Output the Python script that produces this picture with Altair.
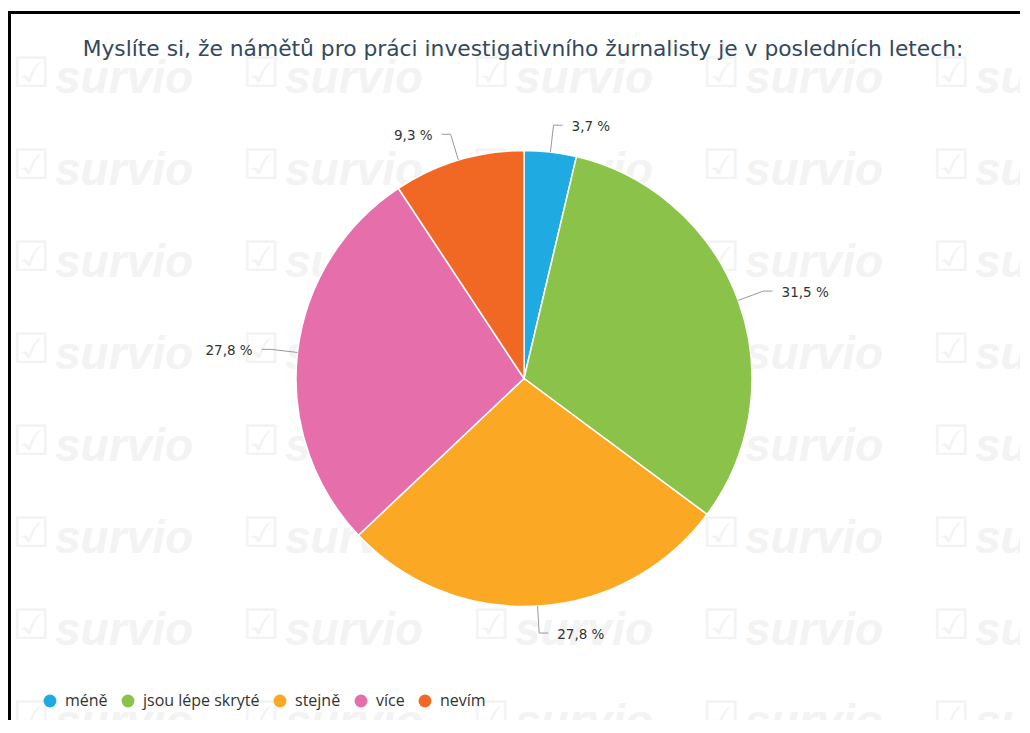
import altair as alt
import numpy as np
import pandas as pd

# ---- data ----
categories = ["méně", "jsou lépe skryté", "stejně", "více", "nevím"]
values = [3.7, 31.5, 27.8, 27.8, 9.3]
labels = ["3,7 %", "31,5 %", "27,8 %", "27,8 %", "9,3 %"]
colors = ["#1fabe1", "#8bc34a", "#fba925", "#e66fab", "#f06824"]
title_text = "Myslíte si, že námětů pro práci investigativního žurnalisty je v posledních letech:"
watermark_cols = [0, 1, 2, 3, 4]
watermark_rows = [0, 1, 2, 3, 4, 5, 6, 7]

# ---- layout ----
W, H = 1012, 712
CX, CY, R = 516, 370.5, 228
R_OUT = 255
HOOK = 9
GAP = 9

df = pd.DataFrame({"category": categories, "value": values, "label": labels,
                   "order": list(range(len(categories)))})

total = float(sum(values))
mid = np.cumsum(values) - np.array(values) / 2.0
ang = 2 * np.pi * mid / total
side = np.where(np.sin(ang) >= 0, 1, -1)

x0 = CX + R * np.sin(ang)
y0 = CY - R * np.cos(ang)
x1 = CX + R_OUT * np.sin(ang)
y1 = CY - R_OUT * np.cos(ang)
x2 = x1 + side * HOOK
y2 = y1

conn_rows = []
for i, c in enumerate(categories):
    conn_rows += [
        {"category": c, "k": 0, "px": x0[i], "py": y0[i]},
        {"category": c, "k": 1, "px": x1[i], "py": y1[i]},
        {"category": c, "k": 2, "px": x2[i], "py": y2[i]},
    ]
conn = pd.DataFrame(conn_rows)

lab = pd.DataFrame({"label": labels, "px": x2 + side * GAP, "py": y2 + 2, "side": side})

wm = pd.DataFrame([{"c": c, "r": r} for c in watermark_cols for r in watermark_rows])
wm["tx"] = 47 + 230 * wm["c"]
wm["ty"] = 70.5 + 92 * wm["r"]
wm["cx"] = 23 + 230 * wm["c"]
wm["cy"] = 66 + 92 * wm["r"]

xs = alt.Scale(domain=[0, W], nice=False, zero=False)
ys = alt.Scale(domain=[0, H], nice=False, zero=False, reverse=True)

wm_text = alt.Chart(wm).mark_text(
    text="survio", font="Liberation Sans", fontSize=46, fontStyle="italic",
    fontWeight="bold", color="#f3f3f3", align="left", baseline="middle"
).encode(x=alt.X("tx:Q", scale=xs, axis=None), y=alt.Y("ty:Q", scale=ys, axis=None))

wm_check = alt.Chart(wm).mark_text(
    text="☑", font="DejaVu Sans", fontSize=42, color="#f3f3f3",
    align="center", baseline="middle"
).encode(x=alt.X("cx:Q", scale=xs, axis=None), y=alt.Y("cy:Q", scale=ys, axis=None))

pie = alt.Chart(df).mark_arc(radius=R, stroke="white", strokeWidth=1.5).encode(
    theta=alt.Theta("value:Q", stack=True),
    order=alt.Order("order:Q", sort="ascending"),
    color=alt.Color(
        "category:N",
        scale=alt.Scale(domain=categories, range=colors),
        sort=categories,
        legend=alt.Legend(
            title=None, orient="none", legendX=34, legendY=685, direction="horizontal",
            symbolType="circle", symbolSize=165, symbolStrokeWidth=0,
            labelFont="Open Sans", labelFontSize=16, labelColor="#333333",
            labelOffset=7, columnPadding=12, padding=0,
            labelExpr="datum.label == 'jsou lépe skryté' ? 'jsou lépe skryté\u2003\u2002' : datum.label",
        ),
    ),
    x=alt.value(CX),
    y=alt.value(CY),
)

connectors = alt.Chart(conn).mark_line(color="#999999", strokeWidth=1).encode(
    x=alt.X("px:Q", scale=xs, axis=None),
    y=alt.Y("py:Q", scale=ys, axis=None),
    detail="category:N",
    order="k:Q",
)

lab_right = alt.Chart(lab).transform_filter("datum.side > 0").mark_text(
    font="DejaVu Sans", fontSize=13.5, color="#333333", align="left", baseline="middle"
).encode(x=alt.X("px:Q", scale=xs, axis=None), y=alt.Y("py:Q", scale=ys, axis=None), text="label:N")

lab_left = alt.Chart(lab).transform_filter("datum.side < 0").mark_text(
    font="DejaVu Sans", fontSize=13.5, color="#333333", align="right", baseline="middle"
).encode(x=alt.X("px:Q", scale=xs, axis=None), y=alt.Y("py:Q", scale=ys, axis=None), text="label:N")

title = alt.Chart(pd.DataFrame({"t": [title_text]})).mark_text(
    font="DejaVu Sans", fontSize=21.8, color="#34495e", align="center", baseline="middle"
).encode(text="t:N", x=alt.value(515), y=alt.value(41))

border_left = alt.Chart(pd.DataFrame({"a": [0]})).mark_rule(color="black", strokeWidth=3).encode(
    x=alt.value(1.5), y=alt.value(3), y2=alt.value(H)
)
border_top = alt.Chart(pd.DataFrame({"a": [0]})).mark_rule(color="black", strokeWidth=3).encode(
    x=alt.value(0), x2=alt.value(W), y=alt.value(4.5)
)

chart = alt.layer(
    wm_text, wm_check, pie, connectors, lab_right, lab_left, title, border_left, border_top
).properties(
    width=W, height=H, autosize=alt.AutoSizeParams(type="none"), padding=0
).configure_view(stroke=None)

chart.save("out.html", embed_options={"renderer": "svg", "actions": False})
